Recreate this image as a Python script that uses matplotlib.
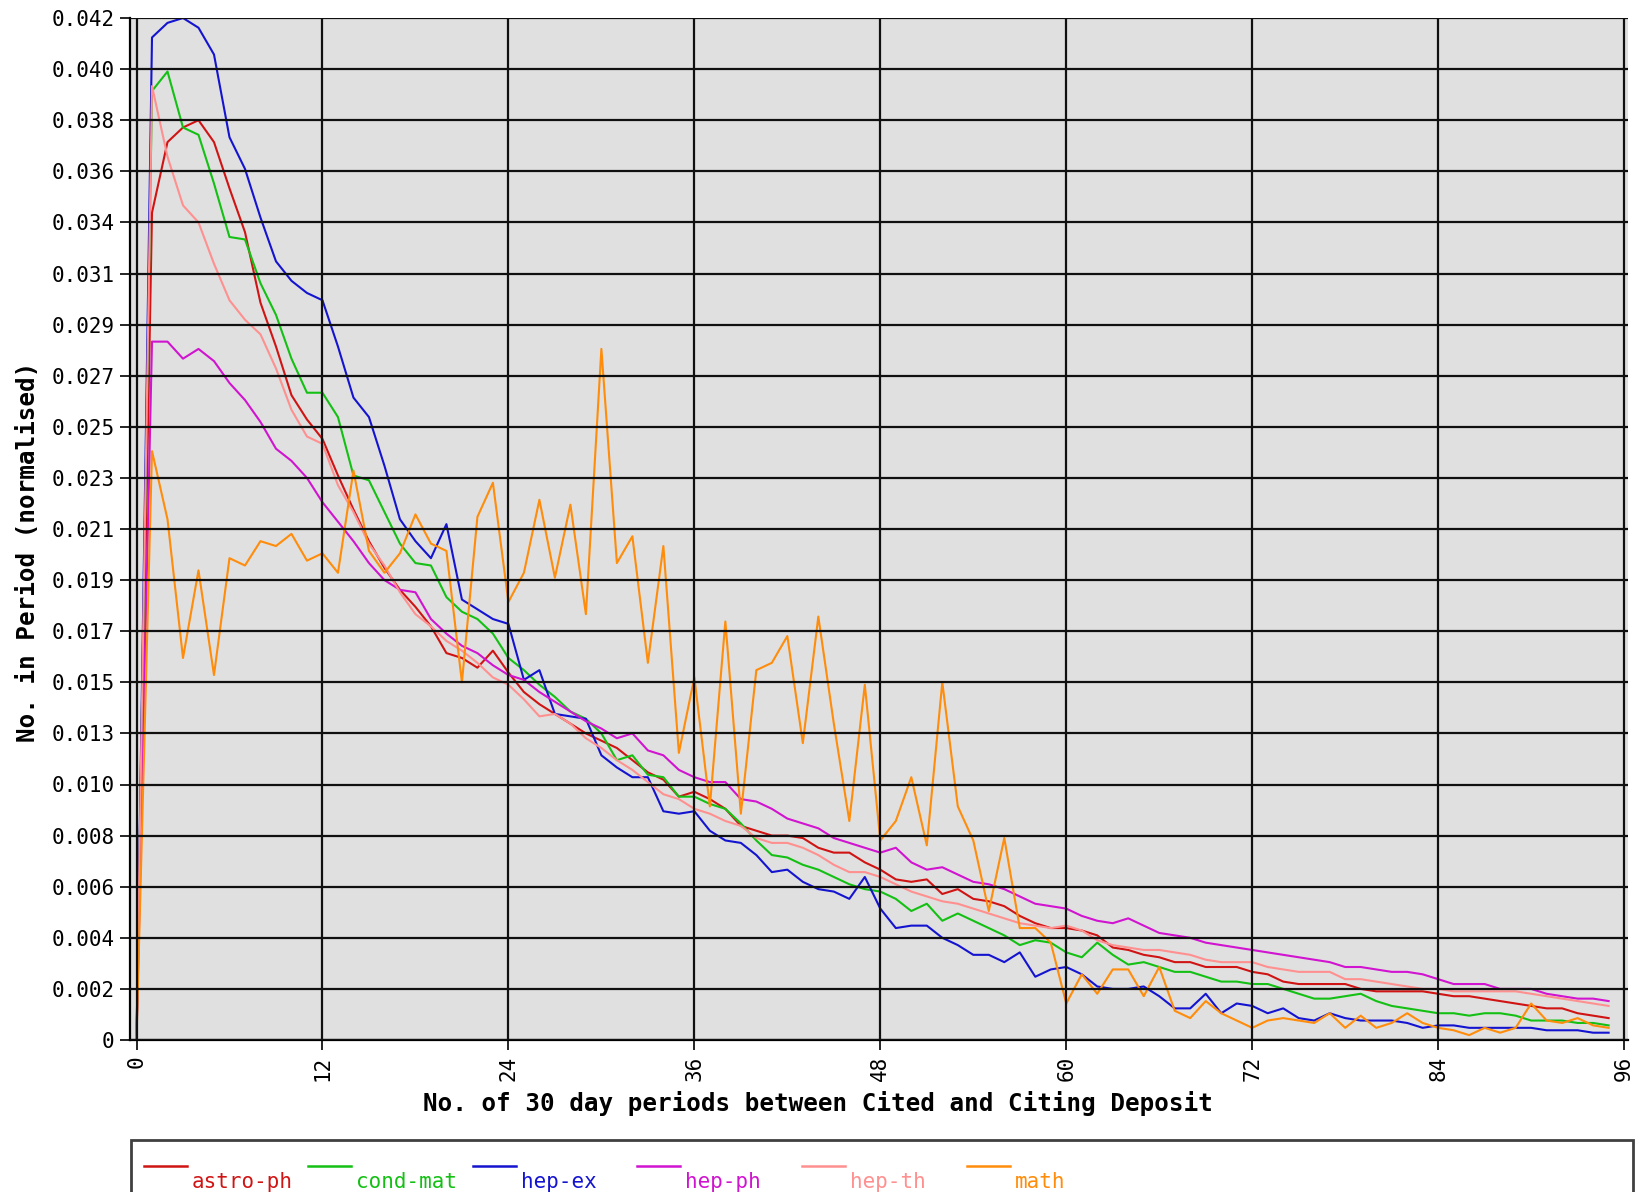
import matplotlib
matplotlib.use('Agg')
import matplotlib.pyplot as plt
from matplotlib.lines import Line2D
from matplotlib.patches import Rectangle

plt.rcParams['font.family'] = ['DejaVu Sans Mono', 'DejaVu Sans']

# periods (30 day units) between cited and citing deposit
periods = list(range(96))

astro_ph = [0, .0340, .0369, .0375, .0378, .0369, .0350, .0332, .0303, .0285,
            .0265, .0255, .0247, .0232, .0218, .0205, .0194, .0185, .0178, .0170,
            .0159, .0157, .0153, .0160, .0151, .0143, .0138, .0134, .0130, .0126,
            .0123, .0120, .0115, .0110, .0107, .0100, .0102, .0099, .0095, .0088,
            .0086, .0084, .0084, .0083, .0079, .0077, .0077, .0073, .0070, .0066,
            .0065, .0066, .0060, .0062, .0058, .0057, .0055, .0051, .0048, .0046,
            .0046, .0045, .0043, .0038, .0037, .0035, .0034, .0032, .0032, .0030,
            .0030, .0030, .0028, .0027, .0024, .0023, .0023, .0023, .0023, .0021,
            .0020, .0020, .0020, .0020, .0019, .0018, .0018, .0017, .0016, .0015,
            .0014, .0013, .0013, .0011, .0010, .0009]

cond_mat = [0, .0390, .0398, .0375, .0372, .0352, .0330, .0329, .0311, .0298,
            .0280, .0266, .0266, .0256, .0232, .0230, .0217, .0204, .0196, .0195,
            .0182, .0176, .0173, .0167, .0157, .0152, .0146, .0141, .0135, .0132,
            .0126, .0115, .0117, .0109, .0108, .0100, .0100, .0097, .0095, .0089,
            .0082, .0076, .0075, .0072, .0070, .0067, .0064, .0062, .0061, .0058,
            .0053, .0056, .0049, .0052, .0049, .0046, .0043, .0039, .0041, .0040,
            .0036, .0034, .0040, .0035, .0031, .0032, .0030, .0028, .0028, .0026,
            .0024, .0024, .0023, .0023, .0021, .0019, .0017, .0017, .0018, .0019,
            .0016, .0014, .0013, .0012, .0011, .0011, .0010, .0011, .0011, .0010,
            .0008, .0008, .0008, .0007, .0007, .0006]

hep_ex = [0, .0412, .0418, .0420, .0416, .0405, .0371, .0358, .0338, .0320,
          .0312, .0307, .0304, .0285, .0264, .0256, .0236, .0214, .0205, .0198,
          .0212, .0181, .0177, .0173, .0171, .0148, .0152, .0134, .0133, .0132,
          .0117, .0112, .0108, .0108, .0094, .0093, .0094, .0086, .0082, .0081,
          .0076, .0069, .0070, .0065, .0062, .0061, .0058, .0067, .0054, .0046,
          .0047, .0047, .0042, .0039, .0035, .0035, .0032, .0036, .0026, .0029,
          .0030, .0027, .0022, .0021, .0021, .0022, .0018, .0013, .0013, .0019,
          .0011, .0015, .0014, .0011, .0013, .0009, .0008, .0011, .0009, .0008,
          .0008, .0008, .0007, .0005, .0006, .0006, .0005, .0005, .0005, .0005,
          .0005, .0004, .0004, .0004, .0003, .0003]

hep_ph = [0, .0287, .0287, .0280, .0284, .0279, .0270, .0263, .0254, .0243,
          .0238, .0231, .0221, .0213, .0205, .0196, .0189, .0185, .0184, .0173,
          .0167, .0162, .0159, .0154, .0150, .0148, .0143, .0139, .0135, .0131,
          .0128, .0124, .0126, .0119, .0117, .0111, .0108, .0106, .0106, .0099,
          .0098, .0095, .0091, .0089, .0087, .0083, .0081, .0079, .0077, .0079,
          .0073, .0070, .0071, .0068, .0065, .0064, .0062, .0059, .0056, .0055,
          .0054, .0051, .0049, .0048, .0050, .0047, .0044, .0043, .0042, .0040,
          .0039, .0038, .0037, .0036, .0035, .0034, .0033, .0032, .0030, .0030,
          .0029, .0028, .0028, .0027, .0025, .0023, .0023, .0023, .0021, .0021,
          .0021, .0019, .0018, .0017, .0017, .0016]

hep_th = [0, .0392, .0363, .0343, .0336, .0319, .0304, .0296, .0290, .0276,
          .0259, .0248, .0245, .0228, .0217, .0204, .0195, .0184, .0175, .0170,
          .0164, .0160, .0155, .0149, .0146, .0140, .0133, .0134, .0130, .0124,
          .0120, .0115, .0111, .0106, .0101, .0099, .0095, .0093, .0090, .0088,
          .0083, .0081, .0081, .0079, .0076, .0072, .0069, .0069, .0067, .0064,
          .0061, .0059, .0057, .0056, .0054, .0052, .0050, .0048, .0047, .0046,
          .0047, .0045, .0041, .0039, .0038, .0037, .0037, .0036, .0035, .0033,
          .0032, .0032, .0032, .0030, .0029, .0028, .0028, .0028, .0025, .0025,
          .0024, .0023, .0022, .0021, .0021, .0020, .0020, .0020, .0020, .0020,
          .0019, .0018, .0017, .0016, .0015, .0014]

math_ = [0, .0242, .0214, .0157, .0193, .0150, .0198, .0195, .0205, .0203,
         .0208, .0197, .0200, .0192, .0234, .0201, .0192, .0200, .0216, .0204,
         .0201, .0147, .0215, .0229, .0180, .0192, .0222, .0190, .0220, .0175,
         .0284, .0196, .0207, .0155, .0203, .0118, .0149, .0096, .0172, .0093,
         .0152, .0155, .0166, .0122, .0174, .0130, .0090, .0146, .0082, .0090,
         .0108, .0080, .0147, .0096, .0082, .0053, .0083, .0046, .0046, .0040,
         .0015, .0027, .0019, .0029, .0029, .0018, .0030, .0012, .0009, .0016,
         .0011, .0008, .0005, .0008, .0009, .0008, .0007, .0011, .0005, .0010,
         .0005, .0007, .0011, .0007, .0005, .0004, .0002, .0005, .0003, .0005,
         .0015, .0008, .0007, .0009, .0006, .0005]

names = ['astro-ph', 'cond-mat', 'hep-ex', 'hep-ph', 'hep-th', 'math']
series = [astro_ph, cond_mat, hep_ex, hep_ph, hep_th, math_]
colors = ['#d01414', '#14c014', '#1414d0', '#d014d0', '#ff9090', '#ff8c0a']

x_ticks = [0, 12, 24, 36, 48, 60, 72, 84, 96]
y_ticks = [i * 0.0021 for i in range(21)]
y_labels = ['0', '0.002', '0.004', '0.006', '0.008', '0.010', '0.013', '0.015',
            '0.017', '0.019', '0.021', '0.023', '0.025', '0.027', '0.029',
            '0.031', '0.034', '0.036', '0.038', '0.040', '0.042']

W, H = 1643, 1192
fig = plt.figure(figsize=(W / 100, H / 100), dpi=100)
ax = fig.add_axes([130 / W, 1 - 1040 / H, 1498 / W, 1022 / H])
ax.set_facecolor('#e0e0e0')

for vals, col in zip(series, colors):
    ax.plot(periods, vals, color=col, lw=1.5)

ax.set_xlim(-0.42, 96.25)
ax.set_ylim(0, 0.042)
ax.set_xticks(x_ticks)
ax.set_xticklabels([str(t) for t in x_ticks], rotation=90)
ax.set_yticks(y_ticks)
ax.set_yticklabels(y_labels)
ax.grid(True, color='#101010', lw=1.6)
ax.set_axisbelow(False)
ax.tick_params(direction='out', length=7, width=1.2, labelsize=15, pad=4)
for s in ['top', 'right']:
    ax.spines[s].set_visible(False)
for s in ['left', 'bottom']:
    ax.spines[s].set_linewidth(1.6)

fig.text(818 / W, 1 - 1103 / H, 'No. of 30 day periods between Cited and Citing Deposit',
         ha='center', va='center', fontsize=17.5, fontweight='bold')
fig.text(28 / W, 1 - 552 / H, 'No. in Period (normalised)', rotation=90,
         ha='center', va='center', fontsize=17.5, fontweight='bold')

# legend box at the bottom (runs off the lower edge like the original)
fig.add_artist(Rectangle((131 / W, -0.02), 1502 / W, 0.02 + (H - 1140) / H,
                         transform=fig.transFigure, facecolor='white',
                         edgecolor='#404040', lw=2))
for i, (name, col) in enumerate(zip(names, colors)):
    x0 = 143.6 + i * 164.6
    fig.add_artist(Line2D([x0 / W, (x0 + 43) / W], [1 - 1166 / H] * 2,
                          transform=fig.transFigure, color=col, lw=1.8))
    fig.text((x0 + 48) / W, 1 - 1182 / H, name, color=col, fontsize=15,
             ha='left', va='center')

fig.savefig('out.png', dpi=100)
